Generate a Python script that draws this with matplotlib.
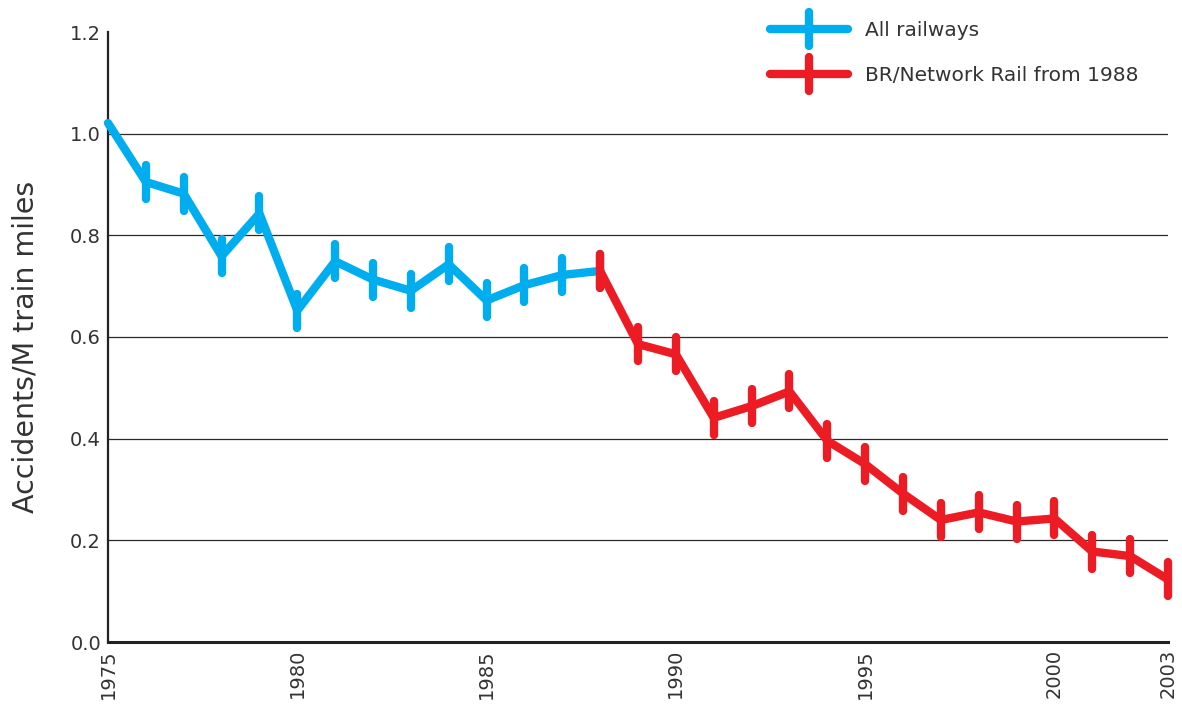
import numpy as np
import matplotlib
matplotlib.use("Agg")
import matplotlib.pyplot as plt
from matplotlib.markers import MarkerStyle

# data
years_all = [1975, 1976, 1977, 1978, 1979, 1980, 1981, 1982,
             1983, 1984, 1985, 1986, 1987, 1988]
rate_all = [1.021, 0.905, 0.882, 0.759, 0.843, 0.652, 0.749, 0.713,
            0.691, 0.743, 0.672, 0.702, 0.722, 0.730]

years_br = [1988, 1989, 1990, 1991, 1992, 1993, 1994, 1995, 1996,
            1997, 1998, 1999, 2000, 2001, 2002, 2003]
rate_br = [0.730, 0.586, 0.566, 0.441, 0.464, 0.493, 0.396, 0.350, 0.292,
           0.240, 0.255, 0.237, 0.243, 0.178, 0.169, 0.123]

xticks = [1975, 1980, 1985, 1990, 1995, 2000, 2003]
yticks = [0.0, 0.2, 0.4, 0.6, 0.8, 1.0, 1.2]

blue = "#00AEEF"
red = "#ED1C24"
txt = "#333333"

plt.rcParams["font.family"] = ["DejaVu Sans"]

fig = plt.figure(figsize=(11.82, 7.04), dpi=100)
ax = fig.add_axes([108 / 1182, 62 / 704, 1060 / 1182, 610 / 704])

vbar = MarkerStyle("|", capstyle="round")
style = dict(lw=6.0, solid_capstyle="round", solid_joinstyle="round",
             marker=vbar, markersize=25, markeredgewidth=6.0, clip_on=False)

for y in yticks[1:-1]:
    ax.axhline(y, color="#2a2a2a", lw=0.9, zorder=1)

ax.plot(years_all, rate_all, color=blue, markevery=list(range(1, len(years_all))),
        label="All railways", zorder=3, **style)
ax.plot(years_br, rate_br, color=red, label="BR/Network Rail from 1988",
        zorder=4, **style)

ax.set_xlim(1975, 2003)
ax.set_ylim(0, 1.2)
ax.set_xticks(xticks)
ax.set_xticklabels([str(x) for x in xticks], rotation=90, fontsize=14, color=txt)
ax.set_yticks(yticks)
ax.set_yticklabels(["%.1f" % y for y in yticks], fontsize=14, color=txt)
ax.tick_params(length=0, pad=5)

for s in ["top", "right"]:
    ax.spines[s].set_visible(False)
ax.spines["left"].set_linewidth(1.6)
ax.spines["left"].set_color("#222222")
ax.spines["bottom"].set_linewidth(2.2)
ax.spines["bottom"].set_color("#222222")

ax.set_ylabel("Accidents/M train miles", fontsize=20.5, color=txt)
ax.yaxis.set_label_coords(-0.078, 0.484)
ax.yaxis.label.set_va("center")

leg = ax.legend(loc="upper left", bbox_to_anchor=(770 / 1182, 1 - 21 / 704),
                bbox_transform=fig.transFigure, frameon=False, fontsize=14.5,
                handlelength=3.85, handletextpad=0.85, labelspacing=1.3,
                borderpad=0, borderaxespad=0)
for t in leg.get_texts():
    t.set_color(txt)

fig.savefig("out.png", dpi=100)
